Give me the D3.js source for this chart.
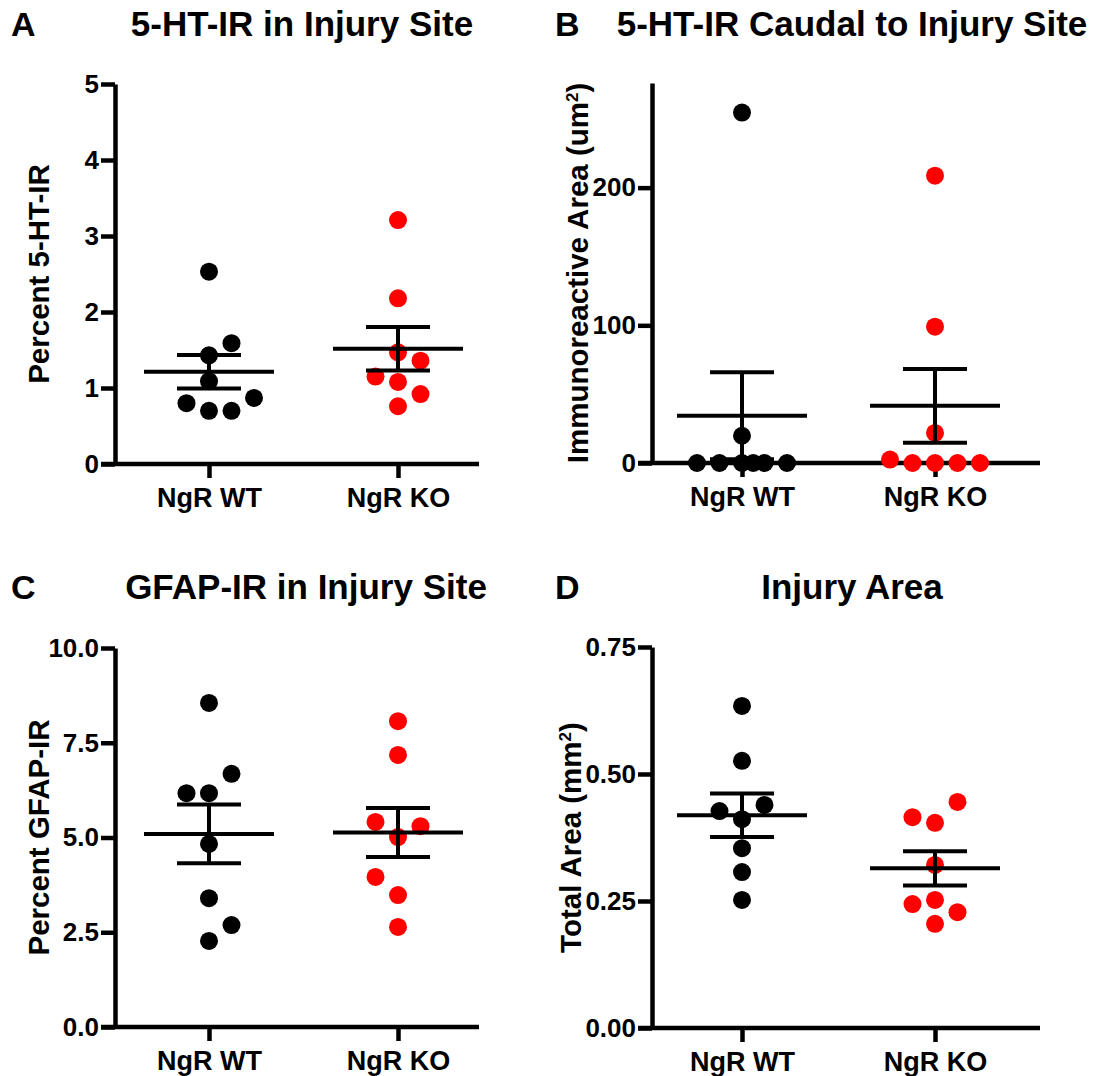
<!DOCTYPE html>
<html>
<head>
<meta charset="utf-8">
<script src="https://cdn.jsdelivr.net/npm/d3@7"></script>
<style>
  body { margin: 0; background: #fff; }
  text { font-family: "Liberation Sans", Arial, sans-serif; font-weight: bold; fill: #000; }
</style>
</head>
<body>
<div id="chart"></div>
<script>
const groups = ["NgR WT", "NgR KO"];

// A: 5-HT-IR in injury site (percent)
const aWT = [2.53, 1.59, 1.43, 1.09, 0.80, 0.70, 0.70, 0.87];
const aKO = [3.21, 2.18, 1.47, 1.36, 1.15, 1.08, 0.92, 0.76];
const aWTslot = [0, 1, 0, 0, -1, 0, 1, 2];
const aKOslot = [0, 0, 0, 1, -1, 0, 1, 0];
const aTicks = [0, 1, 2, 3, 4, 5];

// B: 5-HT-IR caudal to injury site (um2)
const bWT = [254.5, 19.8, 0, 0, 0, 0, 0, 0];
const bKO = [208.7, 99, 21.8, 2.5, 0, 0, 0, 0];
const bWTslot = [0, 0, -2, -1, 0, 0.5, 1, 2];
const bKOslot = [0, 0, 0, -2, -1, 0, 1, 2];
const bTicks = [0, 100, 200];

// C: GFAP-IR in injury site (percent)
const cWT = [8.55, 6.68, 6.17, 6.17, 4.83, 3.40, 2.69, 2.27];
const cKO = [8.07, 7.18, 5.41, 5.30, 5.01, 3.96, 3.48, 2.64];
const cWTslot = [0, 1, -1, 0, 0, 0, 1, 0];
const cKOslot = [0, 0, -1, 1, 0, -1, 0, 0];
const cTicks = [0, 2.5, 5, 7.5, 10];

// D: injury area (mm2)
const dWT = [0.634, 0.526, 0.439, 0.427, 0.411, 0.354, 0.307, 0.252];
const dKO = [0.445, 0.415, 0.404, 0.321, 0.252, 0.244, 0.228, 0.205];
const dWTslot = [0, 0, 1, -1, 0, 0, 0, 0];
const dKOslot = [1, -1, 0, 0, 0, -1, 1, 0];
const dTicks = [0, 0.25, 0.5, 0.75];

const colors = ["#000000", "#ff0000"];

const svg = d3.select("#chart").append("svg")
    .attr("width", 1100)
    .attr("height", 1076);

function drawPanel(p) {
    const g = svg.append("g");

    let y = d3.scaleLinear().domain([0, p.yMax]).range([p.y0, p.yTop]);
    let x = d3.scalePoint().domain(groups).range(p.cats);

    // panel letter + title
    g.append("text").attr("x", p.letterX).attr("y", p.titleY)
        .style("font-size", "34px").text(p.letter);
    g.append("text").attr("x", p.titleX).attr("y", p.titleY)
        .style("font-size", "35px").attr("text-anchor", "middle").text(p.title);

    // y axis
    let ya = g.append("g")
        .attr("transform", "translate(" + p.axisX + ",0)")
        .call(d3.axisLeft(y).tickValues(p.ticks).tickSize(14).tickSizeOuter(0).tickPadding(2).tickFormat(d3.format(p.fmt)));
    ya.select(".domain").attr("stroke-width", 4.5).attr("stroke", "#000");
    ya.selectAll(".tick line").attr("stroke-width", 4.5).attr("stroke", "#000");
    ya.selectAll(".tick text").style("font-size", "26px").style("font-family", "Liberation Sans, Arial, sans-serif").style("font-weight", "bold");

    // x axis
    g.append("line")
        .attr("x1", p.axisX - 14).attr("x2", p.xEnd)
        .attr("y1", p.y0).attr("y2", p.y0)
        .attr("stroke", "#000").attr("stroke-width", 4.5);
    let xa = g.append("g")
        .attr("transform", "translate(0," + p.y0 + ")")
        .call(d3.axisBottom(x).tickSize(14).tickSizeOuter(0).tickPadding(10));
    xa.select(".domain").remove();
    xa.selectAll(".tick line").attr("stroke-width", 4.5).attr("stroke", "#000");
    xa.selectAll(".tick text").style("font-size", "27px").style("font-family", "Liberation Sans, Arial, sans-serif").style("font-weight", "bold");

    // y label
    g.append("text")
        .attr("transform", "translate(" + p.labelX + "," + ((p.y0 + p.yTop) / 2) + ") rotate(-90)")
        .attr("text-anchor", "middle")
        .style("font-size", "29.5px")
        .html(p.label);

    // points
    p.series.forEach(function(s, i) {
        g.append("g").selectAll("circle")
            .data(s.values)
            .enter()
            .append("circle")
            .attr("cx", function(d, j) { return x(groups[i]) + s.slots[j] * 22.5; })
            .attr("cy", function(d) { return y(d); })
            .attr("r", 9)
            .style("fill", colors[i]);
    });

    // mean and SEM
    p.series.forEach(function(s, i) {
        let m = d3.mean(s.values);
        let sem = d3.deviation(s.values) / Math.sqrt(s.values.length);
        let cx = x(groups[i]);
        let lo = Math.max(0, m - sem);
        let bars = g.append("g").attr("stroke", "#000").attr("stroke-width", 4);
        bars.append("line").attr("x1", cx - 65).attr("x2", cx + 65).attr("y1", y(m)).attr("y2", y(m));
        bars.append("line").attr("x1", cx).attr("x2", cx).attr("y1", y(lo)).attr("y2", y(m + sem));
        bars.append("line").attr("x1", cx - 32).attr("x2", cx + 32).attr("y1", y(m + sem)).attr("y2", y(m + sem));
        if (m - sem > 0) {
            bars.append("line").attr("x1", cx - 32).attr("x2", cx + 32).attr("y1", y(m - sem)).attr("y2", y(m - sem));
        }
    });
}

drawPanel({
    letter: "A", title: "5-HT-IR in Injury Site", letterX: 11, titleX: 302, titleY: 36,
    axisX: 115, xEnd: 479, y0: 464, yTop: 84, yMax: 5, cats: [209, 398],
    ticks: aTicks, fmt: "d", labelX: 49, label: "Percent 5-HT-IR",
    series: [{ values: aWT, slots: aWTslot }, { values: aKO, slots: aKOslot }]
});

drawPanel({
    letter: "B", title: "5-HT-IR Caudal to Injury Site", letterX: 555, titleX: 852, titleY: 36,
    axisX: 652, xEnd: 1040, y0: 463, yTop: 83, yMax: 276, cats: [742, 935],
    ticks: bTicks, fmt: "d", labelX: 588, label: "Immunoreactive Area (um<tspan dy='-10' style='font-size:17px'>2</tspan><tspan dy='10'>)</tspan>",
    series: [{ values: bWT, slots: bWTslot }, { values: bKO, slots: bKOslot }]
});

drawPanel({
    letter: "C", title: "GFAP-IR in Injury Site", letterX: 11, titleX: 306, titleY: 599,
    axisX: 115, xEnd: 479, y0: 1027, yTop: 648, yMax: 10, cats: [209, 398],
    ticks: cTicks, fmt: ".1f", labelX: 49, label: "Percent GFAP-IR",
    series: [{ values: cWT, slots: cWTslot }, { values: cKO, slots: cKOslot }]
});

drawPanel({
    letter: "D", title: "Injury Area", letterX: 555, titleX: 852, titleY: 599,
    axisX: 652, xEnd: 1040, y0: 1028, yTop: 647, yMax: 0.75, cats: [742, 935],
    ticks: dTicks, fmt: ".2f", labelX: 581, label: "Total Area (mm<tspan dy='-10' style='font-size:17px'>2</tspan><tspan dy='10'>)</tspan>",
    series: [{ values: dWT, slots: dWTslot }, { values: dKO, slots: dKOslot }]
});
</script>
</body>
</html>
